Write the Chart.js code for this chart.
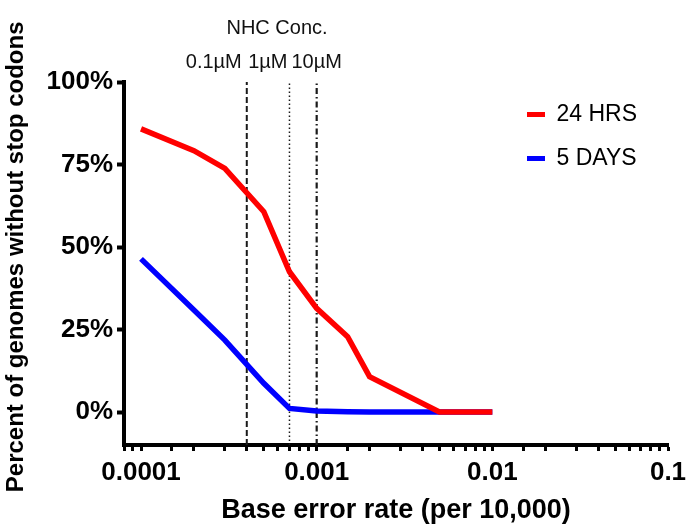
<!DOCTYPE html>
<html>
<head>
<meta charset="utf-8">
<script src="https://cdn.jsdelivr.net/npm/chart.js@4"></script>
<style>
  html, body { margin: 0; padding: 0; background: #fff; }
  #wrap { width: 687px; height: 527px; position: relative; }
</style>
</head>
<body>
<div id="wrap"><canvas id="c" width="687" height="527"></canvas></div>
<script>
// ---- data ----
const errorRates = [0.0001, 0.0002, 0.0003, 0.0005, 0.0007, 0.001, 0.0015, 0.002, 0.005, 0.01];
const hrs24 = [85.8, 79.2, 73.8, 60.7, 42.5, 31.4, 22.8, 10.7, 0, 0];
const days5 = [46.4, 30.9, 21.8, 8.7, 1.1, 0.3, 0.1, 0, 0, 0];
const seriesNames = ['24 HRS', '5 DAYS'];
const concLabels = ['0.1µM', '1µM', '10µM'];
const concRates = [0.0004, 0.0007, 0.001];
const concHeader = 'NHC Conc.';
const xTickValues = [0.0001, 0.001, 0.01, 0.1];
const xTickLabels = ['0.0001', '0.001', '0.01', '0.1'];
const yTickValues = [0, 25, 50, 75, 100];
const yTickLabels = ['0%', '25%', '50%', '75%', '100%'];
const xTitle = 'Base error rate (per 10,000)';
const yTitle = 'Percent of genomes without stop codons';
const yRange = [-10, 100];
const xRange = [0.00008, 0.1];

const FONT = "'Liberation Sans', Arial, sans-serif";
const toPts = (xs, ys) => xs.map((x, i) => ({ x: x, y: ys[i] }));
const concDash = [[6, 3], [1.5, 2.5], [6, 3, 1.5, 3]];
const concWidth = [2, 1.5, 2.2];

const refSets = concRates.map((r, i) => ({
  label: concLabels[i],
  data: [{ x: r, y: yRange[0] }, { x: r, y: yRange[1] }],
  borderColor: '#1a1a1a',
  borderWidth: concWidth[i],
  borderDash: concDash[i],
  pointRadius: 0,
  order: 10,
  isRef: true
}));

const topText = {
  id: 'topText',
  afterDraw(chart) {
    const ctx = chart.ctx;
    const xs = chart.scales.x;
    ctx.save();
    ctx.fillStyle = '#111';
    ctx.textBaseline = 'middle';
    ctx.font = '20px ' + FONT;
    ctx.textAlign = 'center';
    ctx.fillText(concHeader, 277, 28);
    const aligns = ['right', 'right', 'center'];
    const offs = [-5, -2, 0];
    concRates.forEach((r, i) => {
      const px = xs.getPixelForValue(r);
      ctx.textAlign = aligns[i];
      ctx.fillText(concLabels[i], px + offs[i], 62);
    });
    ctx.restore();
  }
};

const moveLegend = {
  id: 'moveLegend',
  beforeDraw(chart) {
    const lg = chart.legend;
    if (!lg) return;
    const pad = lg.options.labels.padding;
    lg.left = 527 - pad;
    lg.top = 103 - pad;
  }
};

new Chart(document.getElementById('c'), {
  type: 'line',
  data: {
    datasets: [
      {
        label: seriesNames[0],
        data: toPts(errorRates, hrs24),
        borderColor: '#ff0000',
        backgroundColor: '#ff0000',
        borderWidth: 5.5,
        pointRadius: 0,
        order: 0
      },
      {
        label: seriesNames[1],
        data: toPts(errorRates, days5),
        borderColor: '#0000ff',
        backgroundColor: '#0000ff',
        borderWidth: 5.5,
        pointRadius: 0,
        order: 1
      },
      ...refSets
    ]
  },
  options: {
    responsive: false,
    animation: false,
    events: [],
    layout: { autoPadding: false, padding: { top: 82, right: 19, left: 0, bottom: 0 } },
    elements: { line: { tension: 0, borderCapStyle: 'butt', borderJoinStyle: 'miter' } },
    plugins: {
      tooltip: { enabled: false },
      legend: {
        position: 'chartArea',
        align: 'start',
        labels: {
          filter: (item, data) => !data.datasets[item.datasetIndex].isRef,
          boxWidth: 18,
          boxHeight: 5,
          padding: 21,
          color: '#111',
          font: { family: FONT, size: 23 },
          generateLabels: (chart) => chart.data.datasets.map((d, i) => ({
            text: d.label,
            fillStyle: d.borderColor,
            strokeStyle: d.borderColor,
            lineWidth: 0,
            hidden: false,
            datasetIndex: i
          }))
        }
      }
    },
    scales: {
      x: {
        type: 'logarithmic',
        min: xRange[0],
        max: xRange[1],
        border: { display: true, color: '#000', width: 4 },
        grid: { display: true, drawOnChartArea: false, tickLength: 6, tickWidth: 3, tickColor: '#000' },
        ticks: {
          autoSkip: false,
          maxRotation: 0,
          padding: 6,
          color: '#000',
          font: { family: FONT, size: 26, weight: 'bold' },
          callback: (v) => {
            const idx = xTickValues.findIndex(t => Math.abs(t - v) / t < 1e-6);
            return idx >= 0 ? xTickLabels[idx] : '';
          }
        },
        title: {
          display: true,
          text: xTitle,
          color: '#000',
          font: { family: FONT, size: 27, weight: 'bold' },
          padding: { top: 0, bottom: 0 }
        },
        afterFit: (s) => { s.height = 82; s.paddingLeft = 0; s.paddingRight = 0; }
      },
      y: {
        type: 'linear',
        min: yRange[0],
        max: yRange[1],
        border: { display: true, color: '#000', width: 4 },
        grid: { display: true, drawOnChartArea: false, tickLength: 7, tickWidth: 4, tickColor: '#000' },
        afterBuildTicks: (s) => { s.ticks = yTickValues.map(v => ({ value: v })); },
        ticks: {
          padding: 4,
          color: '#000',
          font: { family: FONT, size: 26, weight: 'bold' },
          callback: (v) => {
            const idx = yTickValues.indexOf(v);
            return idx >= 0 ? yTickLabels[idx] : '';
          }
        },
        title: {
          display: true,
          text: '  ' + yTitle,
          color: '#000',
          font: { family: FONT, size: 24, weight: 'bold' },
          padding: { top: 2, bottom: 0 }
        },
        afterFit: (s) => { s.width = 124; s.paddingTop = 0; s.paddingBottom = 0; }
      }
    }
  },
  plugins: [topText, moveLegend]
});
</script>
</body>
</html>
